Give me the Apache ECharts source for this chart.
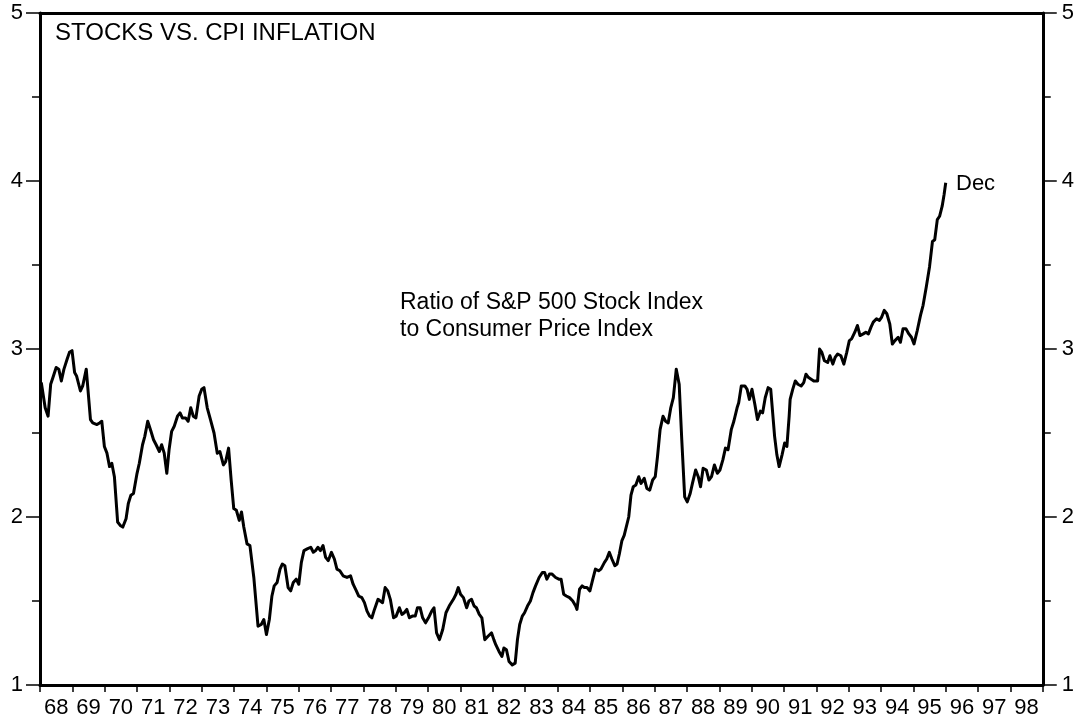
<!DOCTYPE html>
<html>
<head>
<meta charset="utf-8">
<script src="https://cdn.jsdelivr.net/npm/echarts@6/dist/echarts.min.js"></script>
<style>
html,body{margin:0;padding:0;background:#fff;}
#chart{width:1077px;height:719px;}
</style>
</head>
<body>
<div id="chart"></div>
<script>
// Year labels on the x axis (two-digit years, label sits inside each year's span)
const yearLabels = ['68','69','70','71','72','73','74','75','76','77','78','79','80','81','82','83','84','85','86','87','88','89','90','91','92','93','94','95','96','97','98'];
const yTicks = [1, 2, 3, 4, 5];

const years = [
68.04,68.09,68.16,68.25,68.33,68.40,68.50,68.58,68.66,68.74,
68.84,68.91,68.99,69.07,69.13,69.25,69.32,69.43,69.56,69.63,
69.76,69.84,69.91,69.99,70.07,70.15,70.22,70.30,70.40,70.48,
70.56,70.66,70.73,70.81,70.89,71.00,71.07,71.17,71.24,71.33,
71.43,71.51,71.59,71.69,71.76,71.84,71.92,71.99,72.07,72.15,
72.25,72.33,72.40,72.50,72.58,72.66,72.74,72.82,72.92,73.00,
73.07,73.17,73.27,73.38,73.48,73.56,73.67,73.74,73.83,73.91,
73.99,74.07,74.16,74.23,74.30,74.40,74.49,74.61,74.74,74.84,
74.92,75.00,75.09,75.17,75.24,75.33,75.42,75.49,75.57,75.67,
75.75,75.83,75.92,76.00,76.08,76.16,76.26,76.37,76.45,76.52,
76.59,76.67,76.75,76.83,76.91,77.01,77.10,77.18,77.27,77.37,
77.49,77.60,77.68,77.78,77.85,77.95,78.03,78.11,78.19,78.26,
78.34,78.45,78.52,78.59,78.67,78.75,78.83,78.93,79.01,79.11,
79.19,79.26,79.34,79.42,79.51,79.60,79.67,79.75,79.83,79.92,
80.01,80.11,80.18,80.26,80.35,80.45,80.55,80.65,80.78,80.86,
80.93,81.00,81.09,81.19,81.26,81.34,81.42,81.49,81.58,81.66,
81.75,81.85,81.96,82.03,82.09,82.19,82.28,82.34,82.42,82.50,
82.60,82.69,82.76,82.83,82.91,82.98,83.07,83.16,83.24,83.32,
83.43,83.53,83.60,83.67,83.75,83.83,83.94,84.04,84.11,84.19,
84.27,84.37,84.47,84.56,84.60,84.68,84.76,84.83,84.91,85.00,
85.09,85.17,85.27,85.34,85.45,85.52,85.60,85.68,85.77,85.84,
85.91,85.99,86.06,86.11,86.20,86.27,86.34,86.42,86.51,86.58,
86.68,86.76,86.85,86.94,87.02,87.09,87.17,87.26,87.34,87.42,
87.50,87.58,87.67,87.76,87.84,87.93,88.01,88.10,88.17,88.27,
88.35,88.42,88.50,88.60,88.68,88.76,88.85,88.94,89.02,89.11,
89.19,89.27,89.37,89.45,89.55,89.60,89.68,89.79,89.86,89.93,
90.01,90.10,90.18,90.27,90.34,90.42,90.51,90.59,90.65,90.71,
90.78,90.85,90.94,91.02,91.09,91.16,91.19,91.27,91.35,91.43,
91.53,91.61,91.68,91.76,91.84,91.92,92.04,92.10,92.17,92.25,
92.35,92.42,92.51,92.58,92.66,92.76,92.85,92.94,93.02,93.09,
93.19,93.27,93.35,93.45,93.53,93.61,93.69,93.76,93.86,93.95,
94.02,94.10,94.18,94.27,94.35,94.43,94.53,94.60,94.68,94.77,
94.86,94.94,95.02,95.12,95.22,95.30,95.40,95.50,95.59,95.66,
95.74,95.81,95.89,95.95,96.00
];

// Ratio of S&P 500 to CPI
const ratio = [
2.80,2.79,2.65,2.60,2.79,2.83,2.89,2.88,2.81,2.88,
2.94,2.98,2.99,2.86,2.84,2.75,2.78,2.88,2.58,2.56,
2.55,2.56,2.57,2.42,2.38,2.30,2.32,2.24,1.97,1.95,
1.94,1.99,2.08,2.13,2.14,2.26,2.32,2.43,2.48,2.57,
2.51,2.46,2.43,2.39,2.43,2.38,2.26,2.40,2.51,2.54,
2.60,2.62,2.59,2.59,2.57,2.65,2.60,2.59,2.72,2.76,
2.77,2.65,2.58,2.50,2.38,2.39,2.31,2.33,2.41,2.22,
2.05,2.04,1.98,2.03,1.94,1.84,1.83,1.64,1.35,1.36,
1.39,1.30,1.39,1.53,1.59,1.61,1.69,1.72,1.71,1.58,
1.56,1.61,1.63,1.60,1.73,1.80,1.81,1.82,1.79,1.80,
1.82,1.80,1.83,1.76,1.74,1.79,1.75,1.69,1.68,1.65,
1.64,1.65,1.60,1.56,1.53,1.52,1.49,1.44,1.41,1.40,
1.45,1.51,1.50,1.49,1.58,1.56,1.51,1.40,1.41,1.46,
1.42,1.43,1.45,1.40,1.41,1.41,1.46,1.46,1.40,1.37,
1.40,1.44,1.46,1.31,1.27,1.33,1.43,1.47,1.51,1.54,
1.58,1.54,1.52,1.46,1.50,1.51,1.47,1.46,1.42,1.40,
1.27,1.29,1.31,1.27,1.24,1.20,1.17,1.22,1.21,1.14,
1.12,1.13,1.27,1.36,1.41,1.43,1.47,1.50,1.55,1.59,
1.64,1.67,1.67,1.63,1.66,1.66,1.64,1.63,1.63,1.54,
1.53,1.52,1.50,1.47,1.45,1.57,1.59,1.58,1.58,1.56,
1.63,1.69,1.68,1.69,1.73,1.75,1.79,1.75,1.71,1.72,
1.78,1.86,1.89,1.90,2.00,2.13,2.18,2.19,2.24,2.20,
2.23,2.17,2.16,2.22,2.24,2.36,2.52,2.60,2.57,2.56,
2.65,2.71,2.88,2.79,2.46,2.12,2.09,2.14,2.20,2.28,
2.24,2.18,2.29,2.28,2.22,2.24,2.31,2.26,2.28,2.34,
2.41,2.40,2.52,2.57,2.65,2.68,2.78,2.78,2.76,2.70,
2.76,2.67,2.58,2.63,2.62,2.71,2.77,2.76,2.62,2.48,
2.37,2.30,2.37,2.44,2.42,2.60,2.70,2.76,2.81,2.79,
2.78,2.80,2.85,2.83,2.82,2.81,2.81,3.00,2.98,2.93,
2.92,2.96,2.91,2.95,2.97,2.96,2.91,2.98,3.05,3.06,
3.10,3.14,3.08,3.09,3.10,3.09,3.13,3.16,3.18,3.17,
3.19,3.23,3.21,3.15,3.03,3.05,3.07,3.04,3.12,3.12,
3.09,3.07,3.03,3.11,3.20,3.26,3.37,3.49,3.64,3.65,
3.77,3.79,3.85,3.92,3.99
];

const titleText = 'STOCKS VS. CPI INFLATION';
const noteLines = ['Ratio of S&P 500 Stock Index', 'to Consumer Price Index'];
const endLabel = 'Dec';

const FONT = '"Liberation Sans", Arial, Helvetica, sans-serif';
const seriesData = years.map((y, i) => [y, ratio[i]]);

const chart = echarts.init(document.getElementById('chart'), null, {renderer: 'canvas'});

const yAxisCommon = {
  type: 'value', min: yTicks[0], max: yTicks[yTicks.length - 1], interval: 1,
  axisLine: {show: true, onZero: false, lineStyle: {color: '#000', width: 3}},
  axisTick: {show: true, inside: false, length: 14, lineStyle: {color: '#000', width: 1.5}},
  minorTick: {show: true, splitNumber: 2, length: 8, lineStyle: {color: '#000', width: 1.5}},
  splitLine: {show: false},
  minorSplitLine: {show: false}
};

const option = {
  animation: false,
  backgroundColor: '#fff',
  grid: {left: 40, right: 30, top: 13, bottom: 34, containLabel: false},
  xAxis: [
    {
      type: 'category', data: yearLabels, position: 'bottom', boundaryGap: true,
      axisLine: {show: true, lineStyle: {color: '#000', width: 3}},
      axisTick: {show: true, alignWithLabel: false, interval: 0, length: 7, lineStyle: {color: '#000', width: 1.5}},
      axisLabel: {interval: 0, color: '#000', fontSize: 22, fontFamily: FONT, margin: 12},
      splitLine: {show: false}
    },
    {
      type: 'value', min: 68, max: 99, position: 'top',
      axisLine: {show: true, onZero: false, lineStyle: {color: '#000', width: 3}},
      axisTick: {show: false}, axisLabel: {show: false}, splitLine: {show: false}
    }
  ],
  yAxis: [
    Object.assign({}, yAxisCommon, {
      position: 'left',
      axisLabel: {color: '#000', fontSize: 22, fontFamily: FONT, margin: 17}
    }),
    Object.assign({}, yAxisCommon, {
      position: 'right',
      axisLabel: {color: '#000', fontSize: 22, fontFamily: FONT, margin: 19}
    })
  ],
  series: [{
    type: 'line', xAxisIndex: 1, yAxisIndex: 0,
    data: seriesData, showSymbol: false, symbol: 'none',
    lineStyle: {color: '#000', width: 3, join: 'round'},
    silent: true
  }],
  graphic: [
    {type: 'text', left: 55, top: 21, style: {text: titleText, fill: '#000', font: '24px ' + FONT}},
    {type: 'text', left: 400, top: 289, style: {text: noteLines.join('\n'), fill: '#000', font: '23px ' + FONT, lineHeight: 27}},
    {type: 'text', left: 956, top: 173, style: {text: endLabel, fill: '#000', font: '22px ' + FONT}}
  ]
};
chart.setOption(option);
</script>
</body>
</html>
